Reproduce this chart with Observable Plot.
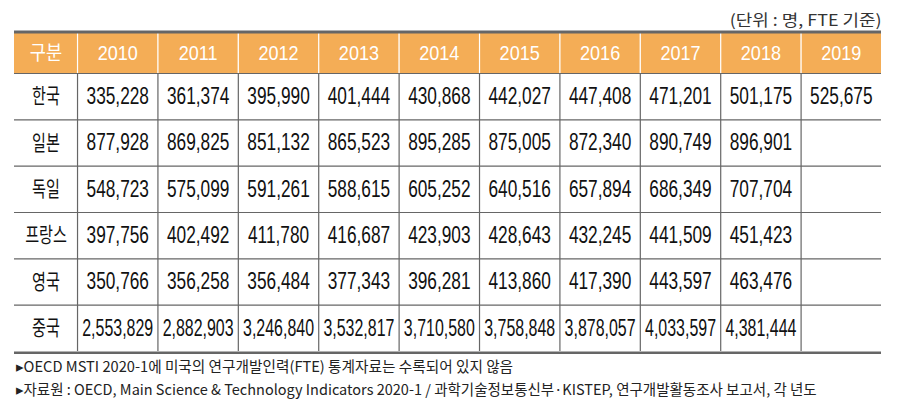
<!DOCTYPE html>
<html>
<head>
<meta charset="utf-8">
<script src="https://cdn.jsdelivr.net/npm/d3@7"></script>
<script src="https://cdn.jsdelivr.net/npm/@observablehq/plot@0.6"></script>
<style>
  html, body { margin: 0; padding: 0; background: #fff; }
  svg { display: block; }
</style>
</head>
<body>
<script>
// ---- data ----
const headerLabel = "구분";
const years = ["2010", "2011", "2012", "2013", "2014", "2015", "2016", "2017", "2018", "2019"];
const countries = ["한국", "일본", "독일", "프랑스", "영국", "중국"];
const korea   = [335228, 361374, 395990, 401444, 430868, 442027, 447408, 471201, 501175, 525675];
const japan   = [877928, 869825, 851132, 865523, 895285, 875005, 872340, 890749, 896901, null];
const germany = [548723, 575099, 591261, 588615, 605252, 640516, 657894, 686349, 707704, null];
const france  = [397756, 402492, 411780, 416687, 423903, 428643, 432245, 441509, 451423, null];
const uk      = [350766, 356258, 356484, 377343, 396281, 413860, 417390, 443597, 463476, null];
const china   = [2553829, 2882903, 3246840, 3532817, 3710580, 3758848, 3878057, 4033597, 4381444, null];
const unitText = "(단위 : 명, FTE 기준)";
const note1 = "▸OECD MSTI 2020-1에 미국의 연구개발인력(FTE) 통계자료는 수록되어 있지 않음";
const note2 = "▸자료원 : OECD, Main Science & Technology Indicators 2020-1 / 과학기술정보통신부·KISTEP, 연구개발활동조사 보고서, 각 년도";
const series = [korea, japan, germany, france, uk, china];

// ---- layout helpers (table grid in "cell units") ----
const firstColW = 0.784;
const headerH = 0.863;
const colWidths = [firstColW, ...years.map(() => 1)];
const colEdges = [0];
colWidths.forEach(w => colEdges.push(colEdges[colEdges.length - 1] + w));
const totalW = colEdges[colEdges.length - 1];
const colCenter = i => (colEdges[i] + colEdges[i + 1]) / 2;
const rowTop = r => headerH + r;
const totalH = headerH + countries.length;

const fmt = d3.format(",");
const headerCells = [headerLabel, ...years].map((label, i) => ({label, x1: colEdges[i], x2: colEdges[i + 1], xc: colCenter(i)}));
const rowCells = countries.map((c, r) => ({label: c, xc: colCenter(0), yc: rowTop(r) + 0.5}));
const valueCells = [];
series.forEach((vals, r) => vals.forEach((v, j) => {
  if (v != null) valueCells.push({label: fmt(v), xc: colCenter(j + 1), yc: rowTop(r) + 0.5});
}));
const innerEdges = colEdges.slice(1, -1);
const rowLines = d3.range(countries.length).map(r => rowTop(r));

const ORANGE = "#F4AD56";
const GRID = "#666";
const FONT = "'Liberation Sans', 'Noto Sans CJK KR', sans-serif";
const KFONT = "'Noto Sans CJK KR', sans-serif";

const chart = Plot.plot({
  width: 905,
  height: 417,
  marginTop: 33,
  marginLeft: 14,
  marginRight: 24,
  marginBottom: 66,
  style: {fontFamily: FONT, background: "#fff"},
  x: {type: "linear", domain: [0, totalW], axis: null},
  y: {type: "linear", domain: [0, totalH], range: [33, 351], axis: null},
  marks: [
    Plot.rect(headerCells, {x1: "x1", x2: "x2", y1: 0, y2: headerH, fill: ORANGE}),
    Plot.ruleX(innerEdges, {x: d => d, y1: 0, y2: headerH, stroke: "#fff", strokeWidth: 1.2}),
    Plot.ruleX(innerEdges, {x: d => d, y1: headerH, y2: totalH, stroke: GRID, strokeWidth: 1.2}),
    Plot.ruleY(rowLines, {y: d => d, x1: 0, x2: totalW, stroke: GRID, strokeWidth: 1.2}),
    Plot.ruleY([0], {y: d => d, x1: 0, x2: totalW, stroke: GRID, strokeWidth: 3, dy: -1.5}),
    Plot.ruleY([totalH], {y: d => d, x1: 0, x2: totalW, stroke: GRID, strokeWidth: 2.6, dy: 1.3}),
    Plot.text(headerCells.slice(0, 1), {x: "xc", y: headerH / 2, text: "label", fill: "#fff", fontSize: 20, fontFamily: KFONT, ariaDescription: "hdrk"}),
    Plot.text(headerCells.slice(1), {x: "xc", y: headerH / 2, text: "label", fill: "#fff", fontSize: 21, ariaDescription: "header"}),
    Plot.text(rowCells, {x: "xc", y: "yc", text: "label", fill: "#111", fontSize: 21, fontFamily: KFONT, ariaDescription: "rows"}),
    Plot.text(valueCells, {x: "xc", y: "yc", text: "label", fill: "#111", fontSize: 23, ariaDescription: "values"}),
    Plot.text([unitText], {frameAnchor: "top-right", dy: -19, fill: "#333", fontSize: 16, fontFamily: KFONT, ariaDescription: "unit"}),
    Plot.text([note1], {frameAnchor: "bottom-left", dx: 1, dy: 20, fill: "#222", fontSize: 14.5, textAnchor: "start", fontFamily: KFONT, ariaDescription: "note1"}),
    Plot.text([note2], {frameAnchor: "bottom-left", dx: 1, dy: 43, fill: "#222", fontSize: 14.5, textAnchor: "start", fontFamily: KFONT, ariaDescription: "note2"})
  ]
});
document.body.append(chart);

// horizontal condensing / stretching to mimic the typeface of the original
function condense(desc, factor, maxW) {
  const g = chart.querySelector(`g[aria-description="${desc}"]`);
  if (!g) return;
  g.querySelectorAll("text").forEach(t => {
    const L = t.getComputedTextLength();
    if (!L) return;
    let w = L * factor;
    if (maxW) w = Math.min(w, maxW);
    t.setAttribute("textLength", w.toFixed(1));
    t.setAttribute("lengthAdjust", "spacingAndGlyphs");
  });
}
condense("hdrk", 0.88);
condense("header", 0.86);
condense("rows", 0.72);
condense("values", 0.75, 71);
condense("unit", 1.12);
condense("note1", 1.01);
condense("note2", 1.0);
</script>
</body>
</html>
